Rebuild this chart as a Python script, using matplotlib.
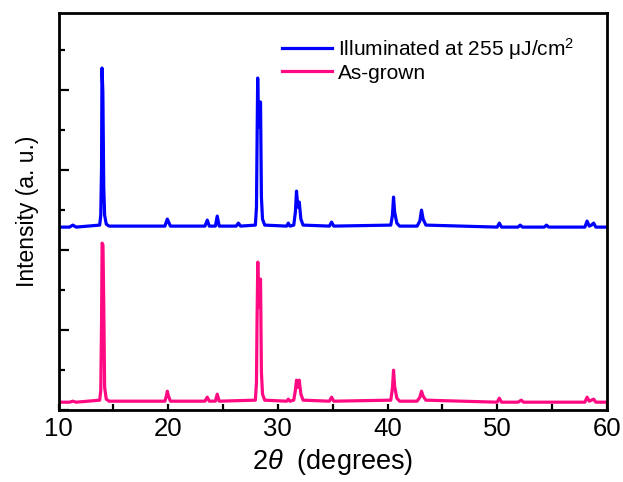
import numpy as np
import matplotlib
matplotlib.use("Agg")
import matplotlib.pyplot as plt
from matplotlib.ticker import MultipleLocator

plt.rcParams["font.family"] = ["Liberation Sans", "DejaVu Sans"]
plt.rcParams["mathtext.fontset"] = "custom"
plt.rcParams["mathtext.rm"] = "Liberation Sans"
plt.rcParams["mathtext.it"] = "Liberation Sans:italic"

# --- data (2theta in degrees, intensity in a.u. above baseline)
illum_x = [10.0, 11.0, 11.3, 11.6, 13.75, 13.85, 13.92, 13.96, 14.04, 14.12, 14.2, 14.35, 14.6,
           19.7, 19.85, 19.92, 20.0, 20.2, 23.35, 23.56, 23.75, 24.3, 24.47, 24.65,
           26.2, 26.4, 26.6, 27.95, 28.05, 28.1, 28.16, 28.24, 28.3, 28.42, 28.5, 28.6, 28.8,
           30.8, 30.95, 31.1, 31.45, 31.6, 31.7, 31.82, 31.95, 32.1, 32.3,
           34.7, 34.9, 35.1, 40.3, 40.45, 40.55, 40.65, 40.85, 41.1,
           42.7, 42.95, 43.1, 43.25, 43.5, 50.0, 50.2, 50.4, 51.9, 52.1, 52.3,
           54.3, 54.5, 54.7, 58.0, 58.2, 58.4, 58.6, 58.8, 59.0, 60.0]
illum_y = [0, 0, 2, 0, 2, 12, 60, 159, 135, 40, 12, 3, 1,
           1, 6, 8, 6, 1, 1, 7, 1, 1, 11, 1,
           1, 4, 1, 2, 20, 80, 149, 100, 125, 125, 30, 8, 2,
           1, 4, 1, 2, 15, 36, 20, 25, 8, 2,
           1, 5, 1, 2, 12, 30, 15, 4, 1,
           1, 6, 17, 8, 2, 0, 4, 0, 0, 2, 0,
           0, 2, 0, 0, 6, 1, 2, 4, 0, 0]

grown_x = [10.0, 11.0, 11.3, 11.6, 13.75, 13.85, 13.92, 13.97, 14.05, 14.12, 14.2, 14.35, 14.6,
           19.7, 19.85, 19.92, 20.0, 20.2, 23.35, 23.56, 23.75, 24.3, 24.47, 24.65,
           27.95, 28.05, 28.1, 28.17, 28.24, 28.3, 28.42, 28.5, 28.6, 28.8,
           30.8, 30.95, 31.1, 31.45, 31.6, 31.7, 31.82, 31.95, 32.1, 32.3,
           34.7, 34.9, 35.1, 40.3, 40.45, 40.55, 40.65, 40.85, 41.1,
           42.7, 42.95, 43.1, 43.25, 43.5, 50.0, 50.2, 50.4, 51.9, 52.2, 52.4,
           58.0, 58.2, 58.4, 58.6, 58.8, 59.0, 60.0]
grown_y = [0, 0, 1, 0, 2, 12, 80, 159, 157, 100, 15, 3, 1,
           1, 7, 11, 7, 1, 1, 5, 1, 1, 8, 1,
           2, 20, 80, 140, 95, 123, 123, 30, 8, 2,
           1, 3, 1, 2, 12, 22, 15, 22, 8, 2,
           1, 5, 1, 2, 14, 32, 16, 4, 1,
           1, 5, 11, 6, 2, 0, 4, 0, 0, 2, 0,
           0, 5, 1, 2, 3, 0, 0]

offsets = [183, 8]
labels = ["Illuminated at 255 \u03bcJ/cm$^2$", "As-grown"]
colors = ["#0000ff", "#ff0a82"]

fig = plt.figure(figsize=(6.23, 4.82), dpi=100)
ax = fig.add_axes([0.094, 0.149, 0.880, 0.824])

for xs, ys, off, lab, c in zip([illum_x, grown_x], [illum_y, grown_y], offsets, labels, colors):
    ax.plot(xs, np.array(ys) + off, color=c, lw=2.3, label=lab, solid_joinstyle="round")

ax.set_xlim(10, 60)
ax.set_ylim(0, 397)
ax.xaxis.set_major_locator(MultipleLocator(10))
ax.xaxis.set_minor_locator(MultipleLocator(5))
ax.yaxis.set_major_locator(MultipleLocator(80))
ax.yaxis.set_minor_locator(MultipleLocator(40))
ax.tick_params(axis="x", which="both", direction="in", length=4, width=1.6,
               labelsize=18.5, pad=5, top=False)
ax.tick_params(axis="y", which="major", direction="in", length=7, width=1.6, right=False)
ax.tick_params(axis="y", which="minor", direction="in", length=4, width=1.6, right=False)
ax.tick_params(axis="y", which="both", labelleft=False)
for s in ax.spines.values():
    s.set_linewidth(2.0)

ax.set_xlabel("2$\\theta$  (degrees)", fontsize=19.5, labelpad=4)
ax.set_ylabel("Intensity (a. u.)", fontsize=16.5, labelpad=14)

ax.legend(loc="upper left", bbox_to_anchor=(0.373, 0.99), frameon=False, fontsize=15,
          handlelength=2.4, handletextpad=0.3, labelspacing=0.1)

fig.savefig("out.png", dpi=100)
